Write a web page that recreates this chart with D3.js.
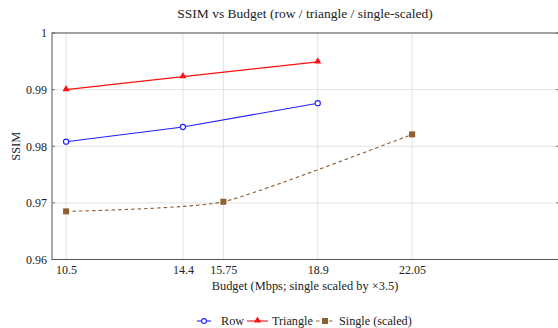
<!DOCTYPE html>
<html><head><meta charset="utf-8">
<script src="https://cdn.jsdelivr.net/npm/d3@7"></script>
<style>body{margin:0;background:#fff}svg{display:block}</style>
</head><body><svg id="c" width="558" height="328"></svg>
<script>
const xTicks = [10.5, 14.4, 15.75, 18.9, 22.05];
const yTicks = [0.96, 0.97, 0.98, 0.99, 1];
const rowX = [10.5, 14.4, 18.9];
const rowY = [0.9808, 0.9834, 0.9876];
const triX = [10.5, 14.4, 18.9];
const triY = [0.9900, 0.9923, 0.9949];
const singleX = [10.5, 15.75, 22.05];
const singleY = [0.9685, 0.9702, 0.9821];
const title = "SSIM vs Budget (row / triangle / single-scaled)";
const xLabel = "Budget (Mbps; single scaled by \u00d73.5)";
const yLabel = "SSIM";

const FONT = "Liberation Serif";
const svg = d3.select("#c");
const L = 52, R = 559, T = 33, B = 259.5;
const x = d3.scaleLinear().domain([10.03, 10.03 + (R - L) / 29.96]).range([L, R]);
const y = d3.scaleLinear().domain([0.96, 1]).range([B, T]);

svg.append("g").selectAll("line").data(xTicks).join("line")
  .attr("x1", d => x(d)).attr("x2", d => x(d)).attr("y1", T).attr("y2", B)
  .attr("stroke", "#e2e2e2").attr("stroke-width", 1);
svg.append("g").selectAll("line").data(yTicks).join("line")
  .attr("x1", L).attr("x2", R).attr("y1", d => y(d)).attr("y2", d => y(d))
  .attr("stroke", "#e2e2e2").attr("stroke-width", 1);

const xa = svg.append("g").attr("transform", `translate(0,${B})`)
  .call(d3.axisBottom(x).tickValues(xTicks).tickFormat(d => String(d)).tickSize(0).tickPadding(10));
const ya = svg.append("g").attr("transform", `translate(${L},0)`)
  .call(d3.axisLeft(y).tickValues(yTicks).tickFormat(d => d === 1 ? "1" : d3.format(".2f")(d)).tickSize(0).tickPadding(5));
[xa, ya].forEach(a => {
  a.attr("font-family", FONT).attr("font-size", 12);
  a.select(".domain").remove();
  a.selectAll("text").attr("fill", "#222");
});
xa.selectAll("text").attr("dy", "0.35em");

svg.append("g").selectAll("line").data(yTicks).join("line")
  .attr("x1", R - 3).attr("x2", R).attr("y1", d => y(d)).attr("y2", d => y(d)).attr("stroke", "#777");
svg.append("g").selectAll("line").data(yTicks).join("line")
  .attr("x1", L).attr("x2", L + 3).attr("y1", d => y(d)).attr("y2", d => y(d)).attr("stroke", "#777");

svg.append("rect").attr("x", L).attr("y", T).attr("width", R - L).attr("height", B - T)
  .attr("fill", "none").attr("stroke", "#555").attr("stroke-width", 1);

const line = d3.line().x(d => x(d[0])).y(d => y(d[1]));
const rowD = rowX.map((v, i) => [v, rowY[i]]);
const triD = triX.map((v, i) => [v, triY[i]]);
const sinD = singleX.map((v, i) => [v, singleY[i]]);
const brown = "#8f5f2f";

svg.append("path").datum(sinD).attr("d", line.curve(d3.curveCardinal.tension(0.45)))
  .attr("fill", "none").attr("stroke", brown).attr("stroke-width", 1.1).attr("stroke-dasharray", "3.5,3");
line.curve(d3.curveLinear);
svg.append("path").datum(rowD).attr("d", line).attr("fill", "none").attr("stroke", "#2020ff").attr("stroke-width", 1.1);
svg.append("path").datum(triD).attr("d", line).attr("fill", "none").attr("stroke", "#ff1010").attr("stroke-width", 1.1);

const tri = d3.symbol().type(d3.symbolTriangle).size(22);
svg.append("g").selectAll("circle").data(rowD).join("circle")
  .attr("cx", d => x(d[0])).attr("cy", d => y(d[1])).attr("r", 2.6)
  .attr("fill", "#fff").attr("stroke", "#2020ff").attr("stroke-width", 1.1);
svg.append("g").selectAll("path").data(triD).join("path")
  .attr("transform", d => `translate(${x(d[0])},${y(d[1]) - 0.5})`).attr("d", tri).attr("fill", "#ff1010");
svg.append("g").selectAll("rect").data(sinD).join("rect")
  .attr("x", d => x(d[0]) - 3).attr("y", d => y(d[1]) - 3).attr("width", 6).attr("height", 6).attr("fill", brown);

const txt = (sel) => sel.attr("font-family", FONT).attr("fill", "#222");
txt(svg.append("text")).attr("x", 305).attr("y", 18).attr("text-anchor", "middle").attr("font-size", 13.5).text(title);
txt(svg.append("text")).attr("x", 305).attr("y", 290).attr("text-anchor", "middle").attr("font-size", 12.4).text(xLabel);
txt(svg.append("text")).attr("transform", `translate(20,${(T + B) / 2}) rotate(-90)`).attr("text-anchor", "middle").attr("font-size", 12.4).text(yLabel);

const ly = 321;
const lg = svg.append("g");
lg.append("line").attr("x1", 197).attr("x2", 211).attr("y1", ly).attr("y2", ly).attr("stroke", "#2020ff").attr("stroke-width", 1.1);
lg.append("circle").attr("cx", 204).attr("cy", ly).attr("r", 2.4).attr("fill", "#fff").attr("stroke", "#2020ff").attr("stroke-width", 1.1);
txt(lg.append("text")).attr("x", 221).attr("y", ly + 4).attr("font-size", 12.2).text("Row");
lg.append("line").attr("x1", 247).attr("x2", 268).attr("y1", ly).attr("y2", ly).attr("stroke", "#ff1010").attr("stroke-width", 1.1);
lg.append("path").attr("transform", `translate(257.5,${ly - 0.5})`).attr("d", tri).attr("fill", "#ff1010");
txt(lg.append("text")).attr("x", 272).attr("y", ly + 4).attr("font-size", 12.2).text("Triangle");
lg.append("line").attr("x1", 316).attr("x2", 334).attr("y1", ly).attr("y2", ly).attr("stroke", brown).attr("stroke-width", 1.1).attr("stroke-dasharray", "3.5,3");
lg.append("rect").attr("x", 322).attr("y", ly - 3).attr("width", 6).attr("height", 6).attr("fill", brown);
txt(lg.append("text")).attr("x", 339).attr("y", ly + 4).attr("font-size", 12.2).text("Single (scaled)");
</script></body></html>
